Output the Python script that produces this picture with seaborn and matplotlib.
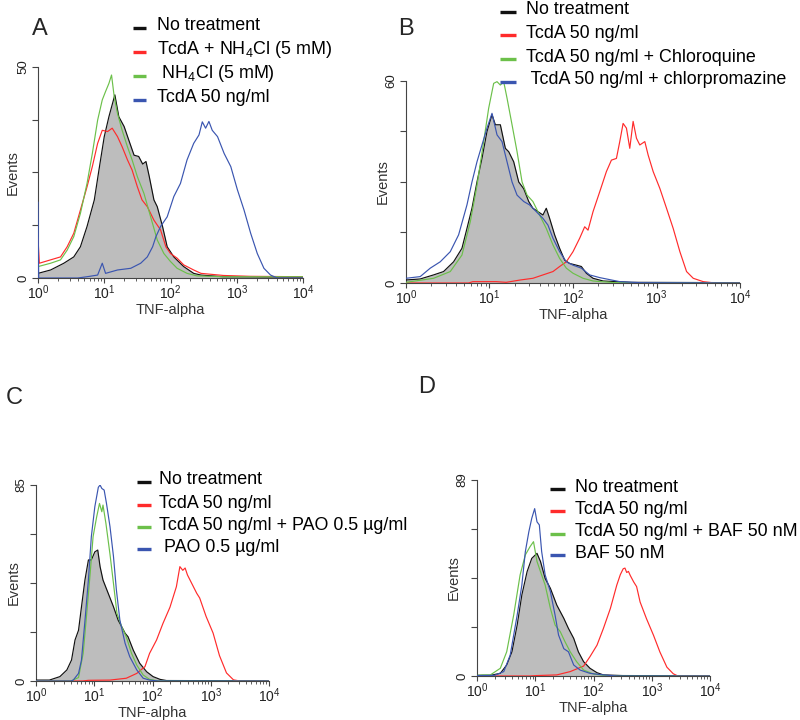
import numpy as np
import pandas as pd
import matplotlib
matplotlib.use("Agg")
import matplotlib.pyplot as plt
import seaborn as sns
from matplotlib.lines import Line2D
from matplotlib.ticker import LogLocator, NullFormatter

sns.set_theme(style="ticks")
plt.rcParams["font.family"] = ["Liberation Sans", "DejaVu Sans"]
plt.rcParams["mathtext.fontset"] = "custom"
plt.rcParams["mathtext.rm"] = "Liberation Sans"
plt.rcParams["mathtext.it"] = "Liberation Sans:italic"

# ---------------- data: (log10 TNF-alpha, events) ----------------
# Panel A
A_none = [(0, 1.1), (0.19, 1.9), (0.39, 3.5), (0.54, 5), (0.64, 7.4), (0.74, 12.2), (0.85, 18.5),
          (0.92, 25.6), (1.0, 33.5), (1.07, 38.2), (1.16, 43.4), (1.22, 38.2), (1.3, 35.9),
          (1.37, 32.7), (1.45, 29.1), (1.52, 28.8), (1.58, 27), (1.63, 27.6), (1.68, 24),
          (1.75, 18.5), (1.8, 16.9), (1.88, 12.2), (1.95, 7.4), (2.05, 5), (2.2, 2.7),
          (2.35, 1.1), (2.46, 0.7), (2.8, 0.3), (4.0, 0.2)]
A_tcda_nh4 = [(0, 9.5), (0.02, 3.5), (0.19, 4.3), (0.34, 5), (0.44, 7.4), (0.54, 10.6), (0.64, 16.1),
              (0.74, 21.6), (0.82, 26.4), (0.9, 31.9), (0.97, 35), (1.05, 34.7), (1.12, 35.5),
              (1.2, 33.5), (1.27, 31.1), (1.35, 28), (1.42, 25.6), (1.5, 21.6), (1.57, 18.5),
              (1.65, 16.9), (1.75, 13.7), (1.85, 11.4), (1.93, 7.4), (2.0, 5.8), (2.1, 4.7),
              (2.2, 3.1), (2.35, 1.9), (2.46, 1.1), (2.8, 0.6), (3.2, 0.4), (4.0, 0.3)]
A_nh4 = [(0, 2.7), (0.19, 3.5), (0.34, 4.3), (0.44, 6.6), (0.54, 9.8), (0.64, 15.3), (0.74, 22.4),
         (0.82, 29.5), (0.9, 37.4), (0.97, 42.2), (1.02, 44.2), (1.07, 46.1), (1.11, 48.1),
         (1.15, 43), (1.2, 39), (1.27, 35), (1.35, 31.1), (1.42, 28), (1.5, 24), (1.6, 20),
         (1.7, 14.5), (1.8, 9), (1.9, 5.8), (2.0, 3.9), (2.1, 2.3), (2.25, 1.1), (2.4, 0.5),
         (2.8, 0.3), (4.0, 0.3)]
A_tcda = [(0, 18), (0.01, 0), (0.6, 0), (0.74, 0.3), (0.9, 0.7), (0.97, 3.5), (1.02, 1.1),
          (1.2, 1.9), (1.4, 2.3), (1.55, 3.5), (1.65, 5), (1.73, 7.4), (1.78, 9.8), (1.85, 12.2),
          (1.95, 14.5), (2.05, 19.3), (2.15, 22.4), (2.25, 28), (2.35, 31.9), (2.43, 33.9),
          (2.48, 37), (2.53, 35.5), (2.58, 37.1), (2.63, 35), (2.71, 33.5), (2.81, 29.5),
          (2.91, 26.4), (3.01, 20.9), (3.11, 16.1), (3.21, 10.6), (3.31, 5.8), (3.41, 2.3),
          (3.51, 0.7), (3.61, 0), (4.0, 0)]

# Panel B
B_none = [(0, 0.9), (0.17, 1.2), (0.33, 2.4), (0.45, 3.4), (0.57, 6.3), (0.67, 10.3), (0.73, 16.2),
          (0.79, 22.2), (0.85, 30), (0.91, 37), (0.97, 45), (1.03, 50), (1.07, 47), (1.13, 47),
          (1.19, 40), (1.23, 39), (1.29, 36), (1.35, 30), (1.41, 28), (1.47, 24.2), (1.52, 22.2),
          (1.58, 21.2), (1.64, 20.2), (1.68, 22.2), (1.72, 19.2), (1.78, 14.3), (1.84, 10.3),
          (1.9, 6.8), (1.96, 5.8), (2.04, 5.3), (2.1, 4.9), (2.16, 2.9), (2.24, 1.4), (2.36, 0.6),
          (2.7, 0.2), (4.0, 0.1)]
B_tcda = [(0, 0), (0.75, 0), (0.8, 0.4), (1.08, 0.4), (1.2, 0.2), (1.37, 0.9), (1.52, 1.4),
          (1.64, 2.4), (1.76, 3.4), (1.84, 4.9), (1.92, 6.3), (2.0, 9.3), (2.08, 13.3),
          (2.14, 16.7), (2.18, 15.7), (2.24, 21.2), (2.32, 27.1), (2.4, 33.1), (2.46, 36.5),
          (2.52, 37), (2.56, 42), (2.6, 47.4), (2.64, 46), (2.68, 40), (2.72, 48), (2.76, 43),
          (2.8, 41), (2.86, 42), (2.9, 38), (2.96, 33.1), (3.04, 28.1), (3.12, 22.2), (3.2, 16.2),
          (3.28, 9.3), (3.36, 3.4), (3.44, 1.4), (3.56, 0.4), (3.7, 0), (4.0, 0)]
B_chloroquine = [(0, 0.2), (0.33, 1.4), (0.53, 3.4), (0.67, 8.3), (0.77, 18.2), (0.85, 29),
                 (0.93, 42), (0.99, 51.9), (1.05, 59.3), (1.09, 59.8), (1.13, 58.8), (1.17, 59.8),
                 (1.21, 54.9), (1.27, 47), (1.33, 39), (1.39, 30), (1.45, 26.1), (1.52, 24.2),
                 (1.6, 20.2), (1.68, 16.2), (1.76, 11.3), (1.84, 7.3), (1.92, 4.4), (2.0, 2.9),
                 (2.12, 1.4), (2.24, 0.6), (2.5, 0.1), (4.0, 0)]
B_chlorpromazine = [(0, 1.4), (0.17, 1.9), (0.29, 4.4), (0.41, 6.3), (0.53, 9.3), (0.63, 14.3),
                    (0.73, 23.2), (0.79, 30), (0.85, 36), (0.91, 41), (0.97, 46), (1.03, 50.4),
                    (1.09, 44), (1.15, 42), (1.21, 36), (1.27, 30), (1.33, 26.1), (1.41, 24.2),
                    (1.48, 23.2), (1.56, 21.2), (1.64, 19.2), (1.7, 17.2), (1.76, 13.3),
                    (1.84, 9.3), (1.92, 6.3), (2.0, 5.3), (2.1, 4.4), (2.2, 2.4), (2.32, 1.6),
                    (2.44, 1.0), (2.56, 0.4), (2.8, 0.1), (4.0, 0)]

# Panel C
C_none = [(0, 0.4), (0.23, 0.4), (0.41, 1.9), (0.53, 4.8), (0.61, 9.1), (0.67, 17.8), (0.73, 22),
          (0.78, 32), (0.84, 43.8), (0.9, 52.5), (0.95, 52.5), (1.01, 56), (1.06, 56.8),
          (1.1, 49.6), (1.15, 43.8), (1.24, 38), (1.33, 32.2), (1.41, 26.4), (1.47, 23.6),
          (1.53, 20.7), (1.58, 19.2), (1.67, 13.4), (1.78, 7.7), (1.9, 4), (2.01, 1.9),
          (2.13, 0.7), (2.24, 0.2), (4.0, 0.1)]
C_tcda = [(0, 0), (0.8, 0), (0.9, 0.3), (1.27, 0.4), (1.55, 1.2), (1.73, 3.3), (1.81, 5),
          (1.87, 6.2), (1.95, 12), (2.07, 17.8), (2.18, 25), (2.3, 32), (2.41, 40.9), (2.47, 49.6),
          (2.52, 48), (2.56, 49), (2.6, 46), (2.67, 42.5), (2.76, 38), (2.81, 36), (2.92, 28),
          (3.04, 20.8), (3.15, 11), (3.27, 3.5), (3.39, 0.5), (3.5, 0), (4.0, 0)]
C_tcda_pao = [(0, 0), (0.6, 0), (0.73, 1.5), (0.81, 12), (0.87, 29), (0.93, 46.7), (0.98, 62.6),
              (1.04, 71), (1.09, 77), (1.13, 73.4), (1.15, 76.3), (1.2, 68.4), (1.27, 55),
              (1.33, 42.3), (1.39, 29.3), (1.47, 23.6), (1.55, 19.2), (1.64, 12), (1.73, 6.9),
              (1.84, 2.6), (1.95, 0.7), (2.1, 0), (4.0, 0)]
C_pao = [(0, 0), (0.6, 0), (0.64, 0.4), (0.73, 3.3), (0.78, 9), (0.84, 26), (0.9, 44),
         (0.95, 62.6), (1.01, 75.6), (1.07, 84), (1.1, 85), (1.13, 83.5), (1.17, 82.8),
         (1.21, 77), (1.27, 67), (1.33, 54), (1.38, 39.5), (1.44, 26.4), (1.53, 16.3),
         (1.61, 10.5), (1.73, 4.8), (1.84, 1.2), (1.95, 0.4), (2.1, 0), (4.0, 0)]

# Panel D
D_none = [(0, 0.3), (0.23, 0.3), (0.4, 1.2), (0.51, 5), (0.6, 11), (0.69, 23.2), (0.77, 36.8),
          (0.86, 47.4), (0.94, 53.4), (1.03, 55.7), (1.09, 52), (1.17, 44.3), (1.26, 39.8),
          (1.37, 32.2), (1.49, 26.2), (1.57, 21.6), (1.66, 17.1), (1.74, 11), (1.83, 6.5),
          (1.94, 3.5), (2.06, 1.5), (2.17, 0.5), (2.5, 0.2), (4.0, 0.1)]
D_tcda = [(0, 0), (0.9, 0), (1.03, 0.2), (1.37, 0.5), (1.6, 2), (1.71, 3.2), (1.83, 4.5),
          (1.94, 8.8), (2.06, 14), (2.17, 21.6), (2.29, 30.7), (2.4, 41.3), (2.46, 46),
          (2.51, 48.7), (2.54, 49), (2.57, 47), (2.6, 47.5), (2.63, 45.7), (2.69, 42.7),
          (2.74, 40.6), (2.8, 33.6), (2.91, 26), (3.03, 18.5), (3.14, 10.9), (3.26, 4),
          (3.37, 1), (3.45, 0), (4.0, 0)]
D_tcda_baf = [(0, 0.3), (0.1, 0.5), (0.23, 0.5), (0.4, 3.5), (0.51, 11), (0.63, 27.7),
              (0.74, 45.9), (0.83, 55), (0.91, 58.7), (0.97, 61), (1.03, 52), (1.09, 47.4),
              (1.17, 41.3), (1.26, 30.7), (1.34, 23.2), (1.43, 20.1), (1.51, 15.6), (1.6, 11),
              (1.71, 6.5), (1.83, 2.7), (2.0, 0.9), (2.17, 0.3), (2.4, 0), (4.0, 0)]
D_baf = [(0, 0.2), (0.3, 0.3), (0.46, 2), (0.57, 9.5), (0.69, 27.7), (0.77, 41.3), (0.83, 56.5),
         (0.89, 65.5), (0.94, 71.6), (0.99, 76), (1.03, 70), (1.07, 68.6), (1.11, 56.5),
         (1.17, 45.9), (1.26, 38.3), (1.34, 27.7), (1.4, 18.6), (1.49, 12.4), (1.57, 11),
         (1.66, 5), (1.77, 2.7), (1.94, 1.2), (2.17, 0.5), (2.4, 0), (4.0, 0)]

YMAX = {"A": 50, "B": 60, "C": 85, "D": 89}
LEGEND_A = ["No treatment", r"TcdA + NH$\mathregular{_4}$Cl (5 mM)", r" NH$\mathregular{_4}$Cl (5 mM)", "TcdA 50 ng/ml"]
LEGEND_B = ["No treatment", "TcdA 50 ng/ml", "TcdA 50 ng/ml + Chloroquine", " TcdA 50 ng/ml + chlorpromazine"]
LEGEND_C = ["No treatment", "TcdA 50 ng/ml", "TcdA 50 ng/ml + PAO 0.5 µg/ml", " PAO 0.5 µg/ml"]
LEGEND_D = ["No treatment", "TcdA 50 ng/ml", "TcdA 50 ng/ml + BAF 50 nM", "BAF 50 nM"]
XTICKS = [1, 10, 100, 1000, 10000]
XTICKLABELS = [r"$\mathregular{10^{0}}$", r"$\mathregular{10^{1}}$", r"$\mathregular{10^{2}}$",
               r"$\mathregular{10^{3}}$", r"$\mathregular{10^{4}}$"]

BLACK = "#111111"
RED = "#ff2b2b"
GREEN = "#6cc04a"
BLUE = "#3a55b0"
GRAY = "#bdbdbd"
LEG_COLORS = [BLACK, RED, GREEN, BLUE]

W, H = 800, 720
fig = plt.figure(figsize=(8, 7.2), dpi=100)


def frac(px, py):
    return px / W, 1 - py / H


def make_ax(left, top, right, bottom):
    return fig.add_axes([left / W, 1 - bottom / H, (right - left) / W, (bottom - top) / H])


def draw(ax, ymax, filled, others):
    fx = 10 ** np.array([p[0] for p in filled])
    fy = np.array([p[1] for p in filled])
    ax.fill_between(fx, fy, 0, color=GRAY, lw=0, zorder=1)
    frames = []
    for name, pts in [("k", filled)] + others:
        frames.append(pd.DataFrame({"TNF": [10 ** p[0] for p in pts],
                                    "Events": [p[1] for p in pts],
                                    "sample": name}))
    df = pd.concat(frames, ignore_index=True)
    pal = {"k": BLACK, "r": RED, "g": GREEN, "b": BLUE}
    order = ["k"] + [n for n, _ in others]
    sns.lineplot(data=df, x="TNF", y="Events", hue="sample", hue_order=order, palette=pal,
                 estimator=None, sort=False, legend=False, lw=0.85, ax=ax, zorder=3)
    ax.set_xscale("log")
    ax.set_xlim(1, 1e4)
    ax.set_ylim(0, ymax)
    ax.set_xticks(XTICKS)
    ax.set_xticklabels(XTICKLABELS, fontsize=10, color="#222222")
    ax.xaxis.set_minor_locator(LogLocator(base=10, subs=np.arange(2, 10)))
    ax.xaxis.set_minor_formatter(NullFormatter())
    ax.set_yticks(np.linspace(0, ymax, 5))
    ax.set_yticklabels(["0", "", "", "", str(ymax)], fontsize=9.5, color="#222222")
    for lbl in ax.get_yticklabels():
        lbl.set_rotation(90)
        lbl.set_va("center")
    ax.tick_params(axis="x", which="major", length=3.5, width=0.8, pad=0.5, color="#444444")
    ax.tick_params(axis="x", which="minor", length=2.2, width=0.6, color="#444444")
    ax.tick_params(axis="y", length=4, width=0.8, pad=2, color="#444444")
    ax.set_xlabel("")
    ax.set_ylabel("")
    sns.despine(ax=ax)
    for s in ("left", "bottom"):
        ax.spines[s].set_color("#444444")
        ax.spines[s].set_linewidth(0.8)


def legend(hx0, hx1, tx, rows, labels):
    for y, lab, col in zip(rows, labels, LEG_COLORS):
        x0, yy = frac(hx0, y + 2)
        x1, _ = frac(hx1, y + 2)
        fig.add_artist(Line2D([x0, x1], [yy, yy], color=col, lw=2.4, solid_capstyle="butt"))
        xt, yt = frac(tx, y)
        fig.text(xt, yt, lab, fontsize=12.9, va="center", ha="left", color="black")


def labels(ax, ax_l, ax_t, ax_r, ax_b, yl_x):
    cx = (ax_l + ax_r) / 2
    cy = (ax_t + ax_b) / 2
    # place x-axis title just under the rendered tick labels
    fig.canvas.draw()
    r = fig.canvas.get_renderer()
    bottoms = [t.get_window_extent(r).y0 for t in ax.get_xticklabels() if t.get_text()]
    top_px = H - min(bottoms) + 1.0
    fig.text(*frac(cx, top_px), "TNF-alpha", fontsize=10.5, ha="center", va="top", color="#333333")
    fig.text(*frac(yl_x, cy), "Events", fontsize=10.5, ha="center", va="center",
             rotation=90, color="#333333")


# Panel A
axA = make_ax(38, 67, 303, 278)
draw(axA, YMAX["A"], A_none, [("r", A_tcda_nh4), ("g", A_nh4), ("b", A_tcda)])
labels(axA, 38, 67, 303, 278, 13)
legend(133, 146, 157, [26, 50, 74, 98], LEGEND_A)
fig.text(*frac(40, 29), "A", fontsize=17, ha="center", va="center")

# Panel B
axB = make_ax(406, 81, 740, 283)
draw(axB, YMAX["B"], B_none, [("r", B_tcda), ("g", B_chloroquine), ("b", B_chlorpromazine)])
labels(axB, 406, 81, 740, 283, 383)
legend(500, 516, 526, [10, 33, 57, 80], LEGEND_B)
fig.text(*frac(406, 29), "B", fontsize=17, ha="center", va="center")

# Panel C
axC = make_ax(36, 485, 269, 681)
draw(axC, YMAX["C"], C_none, [("r", C_tcda), ("g", C_tcda_pao), ("b", C_pao)])
labels(axC, 36, 485, 269, 681, 14)
legend(137, 151, 159, [480, 503, 525, 547], LEGEND_C)
fig.text(*frac(14, 398), "C", fontsize=17, ha="center", va="center")

# Panel D
axD = make_ax(477, 480, 710, 676)
draw(axD, YMAX["D"], D_none, [("r", D_tcda), ("g", D_tcda_baf), ("b", D_baf)])
labels(axD, 477, 480, 710, 676, 454)
legend(550, 565, 575, [487, 509, 532, 553], LEGEND_D)
fig.text(*frac(427, 387), "D", fontsize=17, ha="center", va="center")

fig.savefig("out.png", dpi=100)
